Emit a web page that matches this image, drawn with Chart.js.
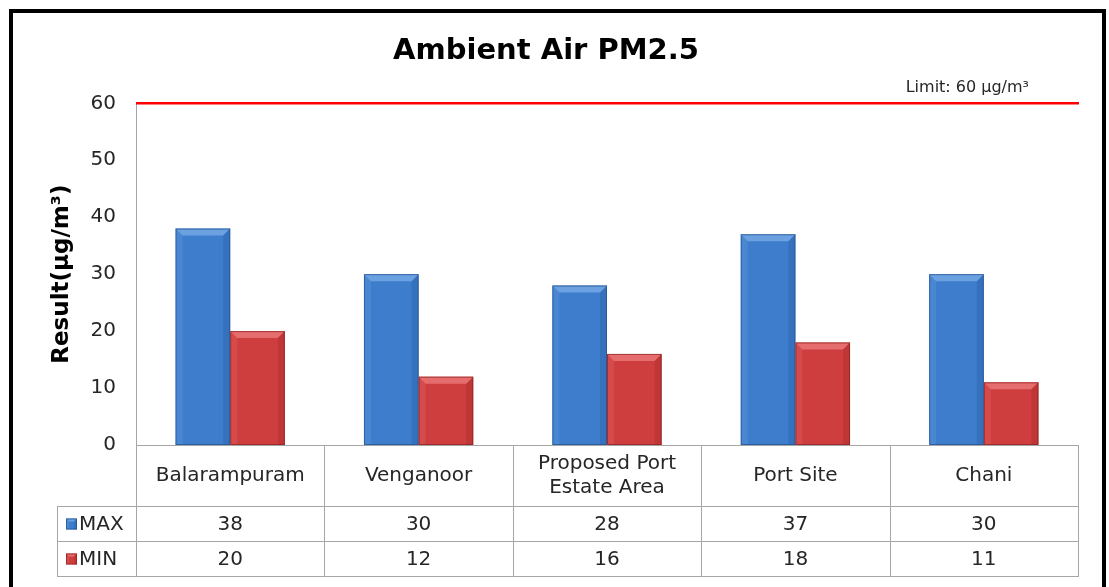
<!DOCTYPE html>
<html>
<head>
<meta charset="utf-8">
<script src="https://cdn.jsdelivr.net/npm/chart.js@4.4.1/dist/chart.umd.min.js"></script>
<style>
    html, body { margin: 0; padding: 0; background: #fff; }
    #wrap { position: absolute; left: 0; top: 0; width: 1109px; height: 587px; }
</style>
</head>
<body>
<div id="wrap"><canvas id="pmChart" width="1109" height="587"></canvas></div>
<script>
// chart data
const categories = ['Balarampuram', 'Venganoor', ['Proposed Port', 'Estate Area'], 'Port Site', 'Chani'];
const maxValues = [38, 30, 28, 37, 30];
const minValues = [20, 12, 16, 18, 11];
const seriesNames = ['MAX', 'MIN'];
const yMin = 0;
const yMax = 60;
const yStep = 10;
const limitValue = 60;
const limitLabel = 'Limit: 60 μg/m³';

const FONT = '"DejaVu Sans", Verdana, sans-serif';
const blue = { base: '#3d7dcc', dark: '#23518f', light: '#7fb0ea' };
const red = { base: '#cf3e3e', dark: '#8c2020', light: '#ee8282' };
const gridGrey = '#a6a6a6';
const textColor = '#262626';

// table row heights under the plot
const headerRowH = 61;
const valueRowH = 35;
const legendColLeft = 57;

/**
 * White background plus the thick black frame.
 */
const framePlugin = {
    id: 'frame',
    beforeDraw(chart) {
        const c = chart.ctx;
        c.save();
        c.fillStyle = '#fff';
        c.fillRect(0, 0, chart.width, chart.height);
        c.strokeStyle = '#000';
        c.lineWidth = 4;
        c.strokeRect(11, 11, chart.width - 16, chart.height + 20);
        c.restore();
    }
};

/**
 * Draws a bevel (light top/left, dark right) over a rectangle.
 */
function bevel(c, l, t, r, b, col, bw) {
    const poly = (pts, fill, alpha) => {
        c.globalAlpha = alpha;
        c.fillStyle = fill;
        c.beginPath();
        c.moveTo(pts[0], pts[1]);
        for (let k = 2; k < pts.length; k += 2) c.lineTo(pts[k], pts[k + 1]);
        c.closePath();
        c.fill();
    };
    const s = Math.min(bw, (b - t) / 2);
    poly([l, t, r, t, r - s, t + s, l + s, t + s], col.light, 0.7);
    poly([l, t, l + s, t + s, l + s, b, l, b], col.light, 0.2);
    poly([r, t, r, b, r - s, b, r - s, t + s], col.dark, 0.25);
    c.globalAlpha = 0.7;
    c.strokeStyle = col.dark;
    c.lineWidth = 1;
    c.strokeRect(l + 0.5, t + 0.5, r - l - 1, b - t - 1);
    c.globalAlpha = 1;
}

const bevelPlugin = {
    id: 'bevel',
    afterDatasetsDraw(chart) {
        const c = chart.ctx;
        chart.data.datasets.forEach((ds, i) => {
            const meta = chart.getDatasetMeta(i);
            const col = i === 0 ? blue : red;
            meta.data.forEach(bar => {
                c.save();
                bevel(c, bar.x - bar.width / 2, bar.y, bar.x + bar.width / 2, bar.base, col, 7);
                c.restore();
            });
        });
    }
};

/**
 * Red limit line with its label.
 */
const limitPlugin = {
    id: 'limitLine',
    afterDraw(chart) {
        const c = chart.ctx;
        const area = chart.chartArea;
        const y = chart.scales.y.getPixelForValue(limitValue);
        c.save();
        c.strokeStyle = '#ff0000';
        c.lineWidth = 2.5;
        c.beginPath();
        c.moveTo(area.left, y);
        c.lineTo(area.right + 1, y);
        c.stroke();
        c.fillStyle = textColor;
        c.font = '16px ' + FONT;
        c.textAlign = 'right';
        c.textBaseline = 'middle';
        c.fillText(limitLabel, area.right - 49, y - 15);
        c.restore();
    }
};

/**
 * Data table below the x axis (categories, MAX and MIN rows).
 */
const tablePlugin = {
    id: 'dataTable',
    afterDraw(chart) {
        const c = chart.ctx;
        const area = chart.chartArea;
        const xs = chart.scales.x;
        const n = categories.length;
        const colW = (area.right - area.left) / n;
        const top = area.bottom;
        const headBottom = top + headerRowH;
        const bottom = headBottom + valueRowH * 2;
        const rows = [maxValues, minValues];
        const cols = [blue, red];

        c.save();
        c.strokeStyle = gridGrey;
        c.lineWidth = 1;
        c.beginPath();
        for (let i = 0; i <= n; i++) {
            const x = Math.round(area.left + i * colW) + 0.5;
            c.moveTo(x, top);
            c.lineTo(x, bottom);
        }
        c.moveTo(legendColLeft + 0.5, headBottom);
        c.lineTo(legendColLeft + 0.5, bottom);
        for (let r = 0; r <= 2; r++) {
            const y = Math.round(headBottom + r * valueRowH) + 0.5;
            c.moveTo(legendColLeft, y);
            c.lineTo(area.right + 1, y);
        }
        c.stroke();

        c.fillStyle = textColor;
        c.font = '20px ' + FONT;
        c.textAlign = 'center';
        c.textBaseline = 'middle';
        categories.forEach((cat, i) => {
            const x = xs.getPixelForValue(i);
            const lines = Array.isArray(cat) ? cat : [cat];
            const lh = 24;
            const y0 = top + headerRowH / 2 - (lines.length - 1) * lh / 2;
            lines.forEach((ln, k) => c.fillText(ln, x, y0 + k * lh));
        });

        rows.forEach((vals, r) => {
            const yc = headBottom + r * valueRowH + valueRowH / 2;
            vals.forEach((v, i) => {
                c.fillStyle = textColor;
                c.textAlign = 'center';
                c.fillText(String(v), xs.getPixelForValue(i), yc + 1);
            });
            // legend key
            c.fillStyle = cols[r].base;
            c.fillRect(66, yc - 5, 11, 11);
            bevel(c, 66, yc - 5, 77, yc + 6, cols[r], 3);
            c.fillStyle = textColor;
            c.textAlign = 'left';
            c.fillText(seriesNames[r], 79, yc + 1);
        });
        c.restore();
    }
};

const ctx = document.getElementById('pmChart').getContext('2d');
const pmChart = new Chart(ctx, {
    type: 'bar',
    data: {
        labels: categories,
        datasets: [{
            label: seriesNames[0],
            data: maxValues,
            backgroundColor: blue.base,
            categoryPercentage: 0.58,
            barPercentage: 1.0
        }, {
            label: seriesNames[1],
            data: minValues,
            backgroundColor: red.base,
            categoryPercentage: 0.58,
            barPercentage: 1.0
        }]
    },
    options: {
        responsive: false,
        animation: false,
        layout: {
            padding: { left: 14, right: 31, top: 0, bottom: 11 }
        },
        plugins: {
            legend: { display: false },
            tooltip: { enabled: false },
            title: {
                display: true,
                text: 'Ambient Air PM2.5',
                color: '#000',
                font: { family: FONT, size: 29, weight: 'bold', lineHeight: 1.2 },
                padding: { top: 34, bottom: 34.5 }
            }
        },
        scales: {
            x: {
                grid: { display: false },
                border: { display: true, color: gridGrey, width: 1 },
                ticks: { display: false },
                afterFit(scale) { scale.height = headerRowH + valueRowH * 2; }
            },
            y: {
                min: yMin,
                max: yMax,
                grid: { display: false, drawTicks: false },
                border: { display: true, color: gridGrey, width: 1 },
                ticks: {
                    stepSize: yStep,
                    padding: 20,
                    color: textColor,
                    font: { family: FONT, size: 20 }
                },
                title: {
                    display: true,
                    text: 'Result(μg/m³)',
                    color: '#000',
                    font: { family: FONT, size: 23, weight: 'bold', lineHeight: 1.2 },
                    padding: { top: 34, bottom: 0 }
                },
                afterFit(scale) { scale.width = 136 - 14; }
            }
        }
    },
    plugins: [framePlugin, bevelPlugin, limitPlugin, tablePlugin]
});
</script>
</body>
</html>
